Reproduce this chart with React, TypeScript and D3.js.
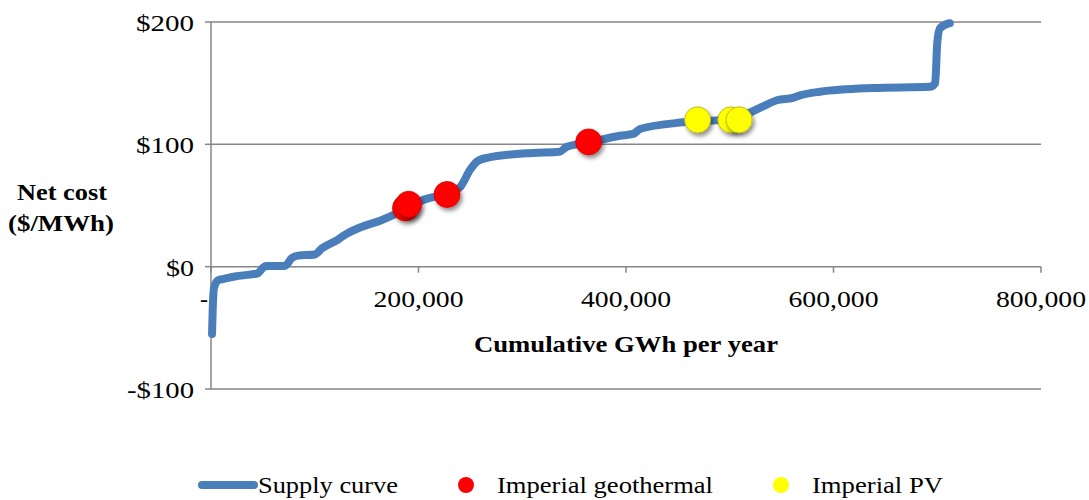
import React from "react";
import * as d3 from "d3";

const supplyX = [1000, 2000, 3000, 7000, 12500, 23000, 37500, 45000, 50000, 53000, 71000, 78000, 84000, 100000, 107000, 122000, 129000, 143600, 163000, 180000, 192000, 206000, 227500, 240000, 249600, 256400, 266000, 310000, 336000, 343000, 362000, 394000, 407000, 413500, 455000, 490600, 519500, 532000, 545500, 561000, 567700, 587000, 638000, 693000, 698000, 700000, 702700, 712000];
const supplyY = [-55, -27, -17, -11, -10, -8, -6.5, -5.5, -1, 0.5, 0.5, 7, 9, 10, 15, 22, 26, 32, 37.5, 44, 50, 55, 60, 65, 79, 86, 89, 93, 94, 98, 101, 107, 108.5, 112.5, 118, 120, 126, 131, 136, 138, 140, 143, 146, 147, 150, 183, 195, 199];

const geoX = [187500, 190500, 227500, 364000];
const geoY = [48, 51, 59, 102];
const pvX = [469000, 501000, 509000];
const pvY = [120, 120, 120];

const xTicks = [0, 200000, 400000, 600000, 800000];
const xTickLabels = ["-", "200,000", "400,000", "600,000", "800,000"];
const yTicks = [-100, 0, 100, 200];
const yTickLabels = ["-$100", "$0", "$100", "$200"];

const FONT = "'Liberation Serif', 'Times New Roman', serif";
const GRID = "#868686";
const BLUE = "#4A7EBB";
const FS = 24;

function T(props: any) {
  const { w, children, ...rest } = props;
  return (
    <text fontFamily={FONT} fontSize={FS} fill="#000" textLength={w} lengthAdjust="spacingAndGlyphs" {...rest}>
      {children}
    </text>
  );
}

export default function App() {
  const x = d3.scaleLinear().domain([0, 800000]).range([211, 1041]);
  const y = d3.scaleLinear().domain([-100, 200]).range([389, 22]);
  const pts: [number, number][] = supplyX.map((v, i) => [v, supplyY[i]]);
  const line = d3
    .line<[number, number]>()
    .x((d) => x(d[0]))
    .y((d) => y(d[1]))
    .curve(d3.curveMonotoneX);

  const yW = (s: string) => (s.length === 2 ? 28 : s.length === 4 ? 58 : 67);

  return (
    <svg width={1089} height={500} style={{ position: "absolute", left: 0, top: 0 }}>
      <defs>
        <filter id="sh" x="-50%" y="-50%" width="200%" height="200%">
          <feDropShadow dx="2" dy="3" stdDeviation="2" floodColor="#000" floodOpacity="0.45" />
        </filter>
      </defs>
      <rect width={1089} height={500} fill="#fff" />
      {yTicks.map((t) => (
        <line key={"g" + t} x1={211} x2={1041} y1={y(t)} y2={y(t)} stroke={GRID} strokeWidth={1.5} />
      ))}
      <line x1={211} x2={211} y1={y(200)} y2={y(-100)} stroke={GRID} strokeWidth={1.5} />
      {yTicks.map((t) => (
        <line key={"yt" + t} x1={205} x2={211} y1={y(t)} y2={y(t)} stroke={GRID} strokeWidth={1.5} />
      ))}
      {yTicks.map((t, i) => (
        <T key={"yl" + t} x={194 - yW(yTickLabels[i])} y={y(t) + 9} w={yW(yTickLabels[i])}>
          {yTickLabels[i]}
        </T>
      ))}
      {xTicks.map((t) => (
        <line key={"xt" + t} x1={x(t)} x2={x(t)} y1={y(0)} y2={y(0) + 6} stroke={GRID} strokeWidth={1.5} />
      ))}
      {xTicks.map((t, i) =>
        i === 0 ? (
          <text key="xl0" x={204} y={307} textAnchor="middle" fontFamily={FONT} fontSize={FS}>
            {xTickLabels[i]}
          </text>
        ) : (
          <T key={"xl" + t} x={x(t) - 45} y={307} w={90}>
            {xTickLabels[i]}
          </T>
        )
      )}
      <T x={474} y={352} w={304} fontWeight="bold">
        Cumulative GWh per year
      </T>
      <T x={17} y={200} w={90} fontWeight="bold">
        Net cost
      </T>
      <T x={8} y={231} w={106} fontWeight="bold">
        ($/MWh)
      </T>
      <path d={line(pts) || ""} fill="none" stroke={BLUE} strokeWidth={8} strokeLinejoin="round" strokeLinecap="round" />
      {geoX.map((v, i) => (
        <circle key={"geo" + i} cx={x(v)} cy={y(geoY[i])} r={13} fill="#FF0000" stroke="#d00000" strokeWidth={0.8} filter="url(#sh)" />
      ))}
      {pvX.map((v, i) => (
        <circle key={"pv" + i} cx={x(v)} cy={y(pvY[i])} r={13} fill="#FFFF00" stroke="#bcbc20" strokeWidth={1} filter="url(#sh)" />
      ))}
      <line x1={202} x2={254} y1={485} y2={485} stroke={BLUE} strokeWidth={8} strokeLinecap="round" />
      <T x={258} y={493} w={140}>
        Supply curve
      </T>
      <circle cx={466} cy={485} r={8} fill="#FF0000" />
      <T x={497} y={493} w={216}>
        Imperial geothermal
      </T>
      <circle cx={781} cy={485} r={8} fill="#FFFF00" />
      <T x={812} y={493} w={131}>
        Imperial PV
      </T>
    </svg>
  );
}
